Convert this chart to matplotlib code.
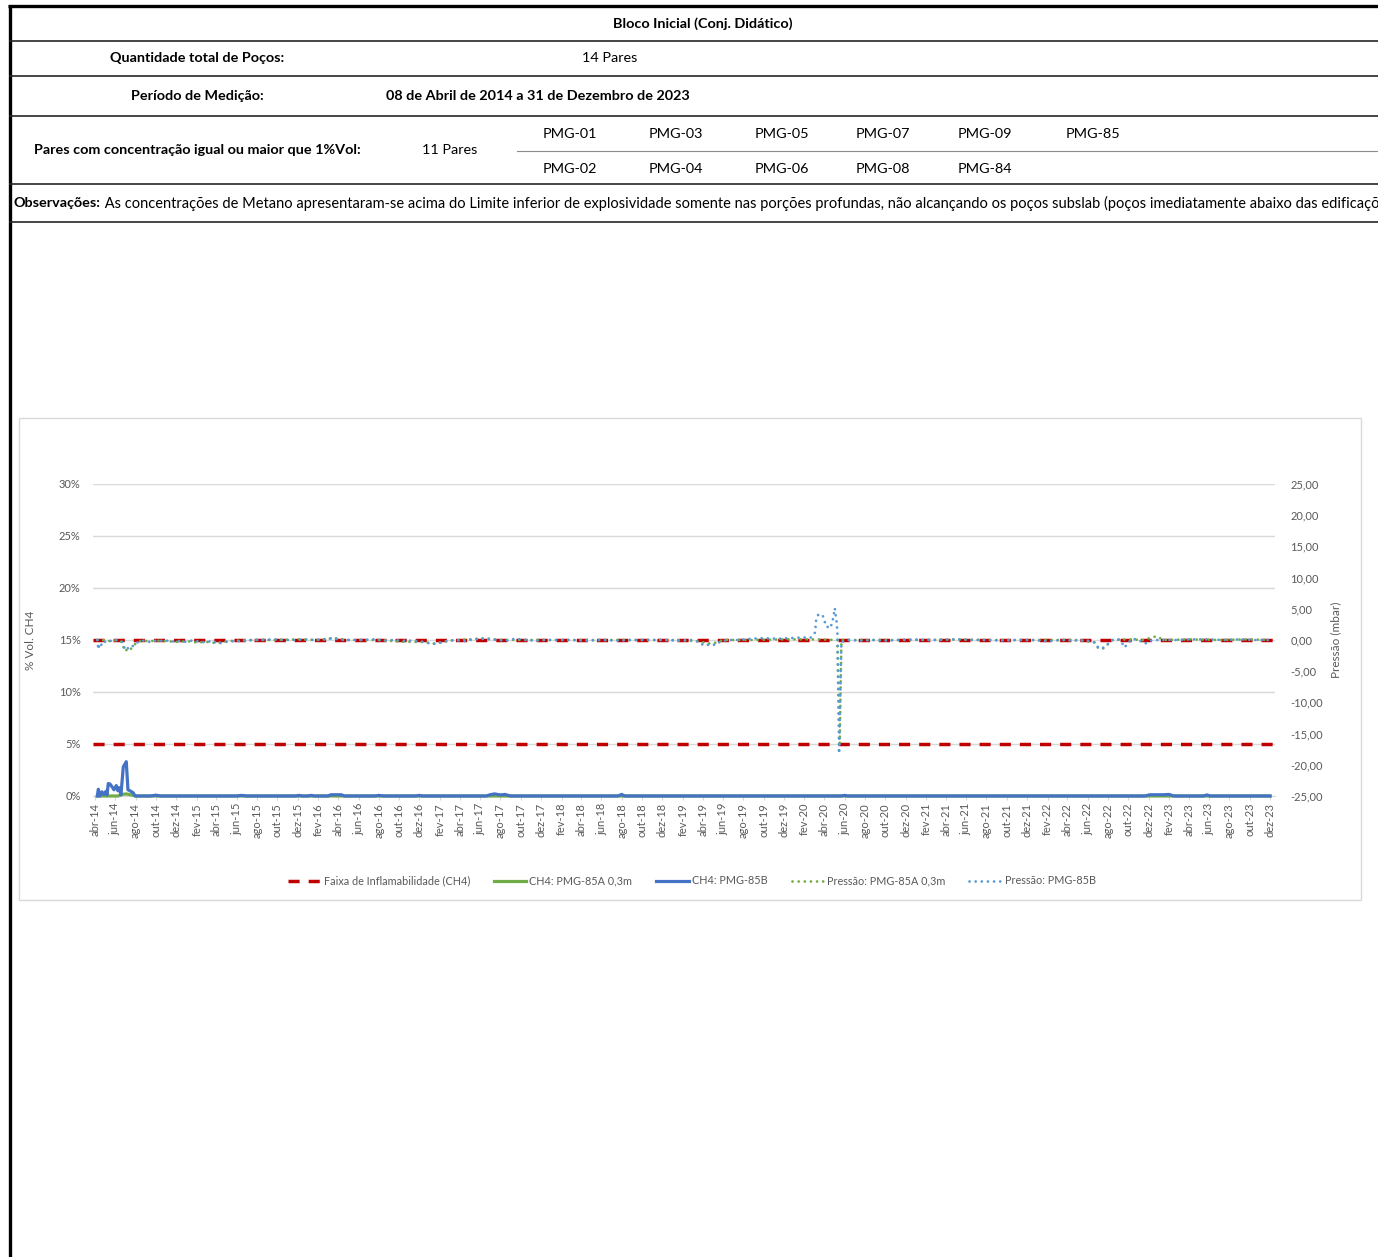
import matplotlib
matplotlib.use("Agg")
import matplotlib.pyplot as plt
from matplotlib.lines import Line2D
from matplotlib.patches import Rectangle
import pandas as pd

plt.rcParams['font.family'] = ['Lato', 'DejaVu Sans']

# ---- header table text ----
title_txt = "Bloco Inicial (Conj. Didático)"
qtd_label = "Quantidade total de Poços:"
qtd_value = "14 Pares"
periodo_label = "Período de Medição:"
periodo_value = "08 de Abril de 2014 a 31 de Dezembro de 2023"
pares_label = "Pares com concentração igual ou maior que 1%Vol:"
pares_value = "11 Pares"
pmg_row1 = ["PMG-01", "PMG-03", "PMG-05", "PMG-07", "PMG-09", "PMG-85"]
pmg_row2 = ["PMG-02", "PMG-04", "PMG-06", "PMG-08", "PMG-84"]
obs_label = "Observações:"
obs_text = (" As concentrações de Metano apresentaram-se acima do Limite inferior de explosividade "
            "somente nas porções profundas, não alcançando os poços subslab (poços imediatamente abaixo das edificações).")

# ---- chart data ----
faixa = [0.05, 0.15]  # faixa de inflamabilidade do CH4 (LIE / LSE)

ch4_85b_dates = ['2014-04-08', '2014-04-11', '2014-04-16', '2014-04-22', '2014-04-28', '2014-05-04',
                 '2014-05-07', '2014-05-11', '2014-05-16', '2014-05-22', '2014-05-28', '2014-06-04',
                 '2014-06-09', '2014-06-13', '2014-06-18', '2014-06-25', '2014-07-04', '2014-07-09',
                 '2014-07-18', '2014-07-25', '2014-07-30', '2014-09-15', '2014-10-01', '2014-10-15',
                 '2015-06-01', '2015-06-15', '2015-07-01', '2015-11-25', '2015-12-05', '2015-12-15',
                 '2016-01-01', '2016-01-10', '2016-01-20', '2016-03-01', '2016-03-10', '2016-04-10',
                 '2016-04-20', '2016-07-20', '2016-08-01', '2016-08-15', '2016-11-20', '2016-12-01',
                 '2016-12-10', '2017-06-20', '2017-07-01', '2017-07-15', '2017-08-01', '2017-08-15',
                 '2017-09-01', '2018-07-20', '2018-08-01', '2018-08-10', '2020-05-20', '2020-06-01',
                 '2020-06-10', '2022-11-20', '2022-12-05', '2023-01-15', '2023-02-01', '2023-02-15',
                 '2023-05-15', '2023-05-25', '2023-06-05', '2023-12-01']
ch4_85b_vals = [0.000, 0.0065, 0.000, 0.004, 0.0015, 0.0045,
                0.001, 0.012, 0.0115, 0.009, 0.006, 0.0100,
                0.005, 0.008, 0.001, 0.028, 0.033, 0.006,
                0.0045, 0.003, 0.000, 0.000, 0.0008, 0.000,
                0.000, 0.0006, 0.000, 0.000, 0.0006, 0.000,
                0.000, 0.0006, 0.000, 0.000, 0.0012, 0.0012,
                0.000, 0.000, 0.0006, 0.000, 0.000, 0.0006,
                0.000, 0.000, 0.0012, 0.0020, 0.0010, 0.0015,
                0.000, 0.000, 0.0015, 0.000, 0.000, 0.0006,
                0.000, 0.000, 0.0012, 0.0012, 0.0015, 0.000,
                0.000, 0.0010, 0.000, 0.000]

ch4_85a_dates = ['2014-04-08', '2014-06-10', '2014-06-20', '2014-07-04', '2014-07-20', '2014-08-05', '2023-12-01']
ch4_85a_vals = [0.000, 0.000, 0.0015, 0.0020, 0.0010, 0.000, 0.000]

p_85b_dates = ['2014-04-08', '2014-04-11', '2014-04-15', '2014-04-19', '2014-04-24', '2014-05-02',
               '2014-05-09', '2014-05-16', '2014-05-23', '2014-05-30', '2014-06-06', '2014-06-13',
               '2014-06-20', '2014-06-25', '2014-06-30', '2014-07-07', '2014-07-14', '2014-07-21',
               '2014-07-28', '2014-08-04', '2014-08-11', '2014-08-25', '2014-09-10', '2014-09-25',
               '2014-10-10', '2014-10-28', '2014-11-15', '2014-12-05', '2014-12-25', '2015-01-15',
               '2015-02-05', '2015-03-01', '2015-03-20', '2015-04-05', '2015-04-20', '2015-05-10',
               '2015-06-01', '2015-06-20', '2015-07-15', '2015-08-15', '2015-09-20', '2015-10-20',
               '2015-11-20', '2015-12-20', '2016-01-20', '2016-02-20', '2016-03-15', '2016-04-10',
               '2016-05-15', '2016-06-15', '2016-07-15', '2016-08-15', '2016-09-15', '2016-10-15',
               '2016-11-15', '2016-12-10', '2017-01-05', '2017-01-20', '2017-02-05', '2017-02-25',
               '2017-03-20', '2017-04-15', '2017-05-10', '2017-06-05', '2017-07-01', '2017-07-25',
               '2017-08-20', '2017-09-15', '2017-10-15', '2017-11-15', '2017-12-15', '2018-01-20',
               '2018-03-01', '2018-04-15', '2018-06-01', '2018-07-15', '2018-09-01', '2018-10-15',
               '2018-12-01', '2019-01-15', '2019-03-01', '2019-03-20', '2019-04-05', '2019-04-25',
               '2019-05-10', '2019-05-25', '2019-06-15', '2019-07-20', '2019-08-25', '2019-10-01',
               '2019-11-10', '2019-12-20', '2020-01-25', '2020-02-20', '2020-03-04', '2020-03-07',
               '2020-03-13', '2020-03-25', '2020-04-01', '2020-04-04', '2020-04-14', '2020-04-19',
               '2020-04-24', '2020-04-28', '2020-05-02', '2020-05-07', '2020-05-10', '2020-05-15',
               '2020-05-22', '2020-06-15', '2020-07-20', '2020-08-25', '2020-10-01', '2020-11-10',
               '2020-12-20', '2021-02-01', '2021-03-15', '2021-05-01', '2021-06-15', '2021-08-01',
               '2021-09-15', '2021-11-01', '2021-12-15', '2022-02-01', '2022-03-15', '2022-04-20',
               '2022-05-25', '2022-06-22', '2022-07-04', '2022-07-16', '2022-07-27', '2022-08-06',
               '2022-08-15', '2022-09-05', '2022-09-21', '2022-09-28', '2022-10-15', '2022-11-01',
               '2022-11-20', '2022-12-05', '2022-12-25', '2023-01-20', '2023-03-01', '2023-04-15',
               '2023-06-01', '2023-07-15', '2023-09-01', '2023-10-15', '2023-12-01']
p_85b_vals = [0.0, -1.5, -0.6, -0.9, -0.2, -0.3,
              -0.1, -0.2, 0.0, -0.1, 0.0, -0.1,
              -0.2, -0.6, -1.6, -1.3, -1.4, -1.0,
              -0.9, -0.5, -0.2, -0.1, -0.3, -0.1,
              -0.2, 0.0, -0.3, -0.1, -0.3, -0.1,
              -0.2, -0.4, -0.1, -0.6, -0.4, -0.2,
              -0.2, -0.1, 0.0, 0.0, 0.1, 0.0,
              0.0, 0.1, 0.0, 0.1, 0.3, 0.0,
              0.0, 0.0, 0.1, -0.1, 0.0, -0.1,
              -0.1, -0.3, -0.6, -0.6, -0.4, -0.1,
              0.0, -0.2, 0.1, 0.2, 0.1, 0.0,
              -0.1, 0.2, 0.0, -0.1, 0.0, 0.0,
              0.0, -0.1, 0.0, -0.1, 0.0, 0.0,
              0.0, -0.1, 0.0, -0.3, -0.9, -0.7,
              -0.8, -0.2, 0.0, 0.0, 0.2, 0.3,
              0.2, 0.3, 0.4, 0.4, 1.2, 3.2,
              4.0, 4.1, 3.3, 2.3, 2.0, 1.9,
              2.8, 3.7, 5.1, 3.2, 1.3, -18.2,
              -0.3, 0.0, -0.1, 0.0, -0.1, 0.0,
              0.1, 0.0, 0.0, 0.1, 0.0, 0.0,
              -0.1, 0.0, 0.0, -0.2, 0.0, -0.1,
              0.0, -0.4, -1.3, -1.3, -0.9, -0.4,
              0.0, 0.1, -1.2, -0.5, 0.2, 0.0,
              -0.6, -0.1, 0.0, 0.0, 0.0, 0.1,
              0.1, 0.0, 0.1, 0.0, 0.0]

p_85a_dates = ['2014-04-08', '2014-04-15', '2014-04-24', '2014-05-09', '2014-05-23', '2014-06-06',
               '2014-06-20', '2014-06-30', '2014-07-07', '2014-07-14', '2014-07-21', '2014-07-28',
               '2014-08-04', '2014-08-18', '2014-09-10', '2014-10-05', '2014-11-01', '2014-12-01',
               '2015-01-05', '2015-02-01', '2015-03-01', '2015-04-01', '2015-05-01', '2015-06-01',
               '2015-08-01', '2015-10-01', '2015-12-01', '2016-02-01', '2016-03-20', '2016-05-01',
               '2016-08-01', '2016-10-15', '2016-12-15', '2017-01-10', '2017-02-01', '2017-03-01',
               '2017-05-01', '2017-06-15', '2017-08-01', '2017-10-01', '2018-01-01', '2018-05-01',
               '2018-09-01', '2019-01-01', '2019-03-25', '2019-04-10', '2019-05-01', '2019-06-01',
               '2019-09-01', '2019-12-01', '2020-03-01', '2020-05-10', '2020-05-17', '2020-05-22',
               '2020-08-01', '2020-11-01', '2021-02-01', '2021-05-01', '2021-08-01', '2021-11-01',
               '2022-02-01', '2022-05-01', '2022-06-22', '2022-07-04', '2022-07-16', '2022-07-27',
               '2022-08-06', '2022-08-15', '2022-10-01', '2022-11-15', '2022-12-25', '2023-01-15',
               '2023-04-01', '2023-07-01', '2023-10-01', '2023-12-01']
p_85a_vals = [0.0, -0.1, 0.0, -0.2, -0.1, 0.0,
              -0.3, -1.8, -1.5, -1.7, -1.2, -0.8,
              -0.4, -0.1, -0.2, -0.1, -0.2, -0.3,
              -0.2, -0.4, -0.3, -0.5, -0.2, -0.1,
              0.0, 0.0, 0.1, 0.0, 0.3, 0.0,
              0.0, -0.3, -0.3, -0.6, -0.4, -0.1,
              0.1, 0.3, 0.0, 0.0, 0.0, 0.0,
              0.0, 0.0, -0.2, -0.5, -0.6, 0.0,
              0.0, 0.1, 0.1, 0.0, -16.6, 0.0,
              0.0, 0.0, 0.0, 0.1, 0.0, 0.0,
              0.0, 0.0, -0.4, -1.4, -1.4, -1.0,
              -0.3, 0.0, 0.1, 0.0, 0.6, 0.0,
              0.1, 0.0, 0.1, 0.0]

pt_months = ['jan', 'fev', 'mar', 'abr', 'mai', 'jun', 'jul', 'ago', 'set', 'out', 'nov', 'dez']
tick_dates = pd.date_range('2014-04-01', '2023-12-01', freq='2MS')
tick_labels = [f"{pt_months[d.month - 1]}-{d.year % 100:02d}" for d in tick_dates]
left_ticks = [0, 0.05, 0.10, 0.15, 0.20, 0.25, 0.30]
right_ticks = [-25, -20, -15, -10, -5, 0, 5, 10, 15, 20, 25]

RED = '#C00000'
GREEN = '#70AD47'
BLUE = '#4472C4'
LBLUE = '#5B9BD5'
GRAY = '#595959'
GRID = '#D9D9D9'

W, H = 1378, 1257
fig = plt.figure(figsize=(W / 100, H / 100), dpi=100)

# overlay in pixel coordinates for the header table
ov = fig.add_axes([0, 0, 1, 1])
ov.set_xlim(0, W)
ov.set_ylim(H, 0)
ov.axis('off')

ov.plot([8, W], [6, 6], color='black', lw=2.4, solid_capstyle='butt')
ov.plot([10, 10], [5, H], color='black', lw=2.4, solid_capstyle='butt')
for yy in [41, 76, 116, 184, 222]:
    ov.plot([10, W], [yy, yy], color='#262626', lw=1.2)
ov.plot([517, W], [151, 151], color='#8C8C8C', lw=0.8)

fs = 10.4
ov.text(703, 24, title_txt, ha='center', va='center', fontsize=fs, fontweight='bold')
ov.text(197, 58, qtd_label, ha='center', va='center', fontsize=fs, fontweight='bold')
ov.text(610, 58, qtd_value, ha='center', va='center', fontsize=fs)
ov.text(197, 96, periodo_label, ha='center', va='center', fontsize=fs, fontweight='bold')
ov.text(538, 96, periodo_value, ha='center', va='center', fontsize=fs, fontweight='bold')
ov.text(197, 150, pares_label, ha='center', va='center', fontsize=fs, fontweight='bold')
ov.text(450, 150, pares_value, ha='center', va='center', fontsize=fs)
col_x = [570, 676, 782, 883, 985, 1093]
for name, cx in zip(pmg_row1, col_x):
    ov.text(cx, 134, name, ha='center', va='center', fontsize=fs)
for name, cx in zip(pmg_row2, col_x):
    ov.text(cx, 169, name, ha='center', va='center', fontsize=fs)
t_obs = ov.text(14, 203, obs_label, ha='left', va='center', fontsize=fs, fontweight='bold')
ov.annotate(obs_text, xy=(1, 0.5), xycoords=t_obs, ha='left', va='center', fontsize=10.5)

# chart frame
ov.add_patch(Rectangle((19, 418), 1342, 482, fill=False, edgecolor=GRID, lw=1))

# ---- chart ----
x0, x1, ytop, ybot = 93, 1275, 484, 796
ax = fig.add_axes([x0 / W, 1 - ybot / H, (x1 - x0) / W, (ybot - ytop) / H])
ax.set_facecolor('none')
ax2 = ax.twinx()

for v in faixa:
    ax.axhline(v, color=RED, lw=2.5, linestyle=(0, (3.2, 2.6)), dash_capstyle='butt', zorder=2)

ax.plot(pd.to_datetime(ch4_85a_dates), ch4_85a_vals, color=GREEN, lw=2.3, clip_on=False, zorder=3)
ax.plot(pd.to_datetime(ch4_85b_dates), ch4_85b_vals, color=BLUE, lw=2.3, clip_on=False, zorder=4,
        solid_joinstyle='round')

dot = (0, (0.01, 2.2))
ax2.plot(pd.to_datetime(p_85a_dates), p_85a_vals, color=GREEN, lw=2.0, linestyle=dot,
         dash_capstyle='round', clip_on=False)
ax2.plot(pd.to_datetime(p_85b_dates), p_85b_vals, color=LBLUE, lw=2.0, linestyle=dot,
         dash_capstyle='round', clip_on=False)

ax.set_xlim(pd.Timestamp('2014-03-26'), pd.Timestamp('2023-12-16'))
ax.set_ylim(0, 0.30)
ax2.set_ylim(-25, 25)

ax.set_yticks(left_ticks)
ax.set_yticklabels([f"{int(round(v * 100))}%" for v in left_ticks])
ax2.set_yticks(right_ticks)
ax2.set_yticklabels([f"{v:.2f}".replace('.', ',') for v in right_ticks])
ax.set_xticks(tick_dates)
ax.set_xticklabels(tick_labels, rotation=90)

ax.yaxis.grid(True, color=GRID, lw=1)
ax.set_axisbelow(True)
for a in (ax, ax2):
    for s in ['top', 'left', 'right']:
        a.spines[s].set_visible(False)
ax2.spines['bottom'].set_visible(False)
ax.spines['bottom'].set_color(GRID)

ax.tick_params(axis='y', length=0, pad=9, labelsize=8, labelcolor=GRAY)
ax2.tick_params(axis='y', length=0, pad=11, labelsize=8, labelcolor=GRAY)
ax.tick_params(axis='x', length=3, color=GRID, pad=2, labelsize=8, labelcolor=GRAY)

ax.set_ylabel('% Vol. CH4', fontsize=8.5, color=GRAY)
ax.yaxis.set_label_coords((36 - x0) / (x1 - x0), 0.5)
ax2.set_ylabel('Pressão (mbar)', fontsize=8.5, color=GRAY)
ax2.yaxis.set_label_coords((1330 - x0) / (x1 - x0), 0.5)

handles = [
    Line2D([], [], color=RED, lw=2.5, linestyle=(0, (3.2, 2.6))),
    Line2D([], [], color=GREEN, lw=2.3),
    Line2D([], [], color=BLUE, lw=2.3),
    Line2D([], [], color=GREEN, lw=2.0, linestyle=dot, dash_capstyle='round'),
    Line2D([], [], color=LBLUE, lw=2.0, linestyle=dot, dash_capstyle='round'),
]
labels = ['Faixa de Inflamabilidade (CH4)', 'CH4: PMG-85A 0,3m', 'CH4: PMG-85B',
          'Pressão: PMG-85A 0,3m', 'Pressão: PMG-85B']
leg = fig.legend(handles, labels, loc='center', bbox_to_anchor=(692 / W, 1 - 881 / H), ncol=5,
                 frameon=False, fontsize=7.8, handlelength=3.0, handletextpad=0.3, columnspacing=2.2)
for t in leg.get_texts():
    t.set_color(GRAY)

fig.savefig('out.png', dpi=100)
